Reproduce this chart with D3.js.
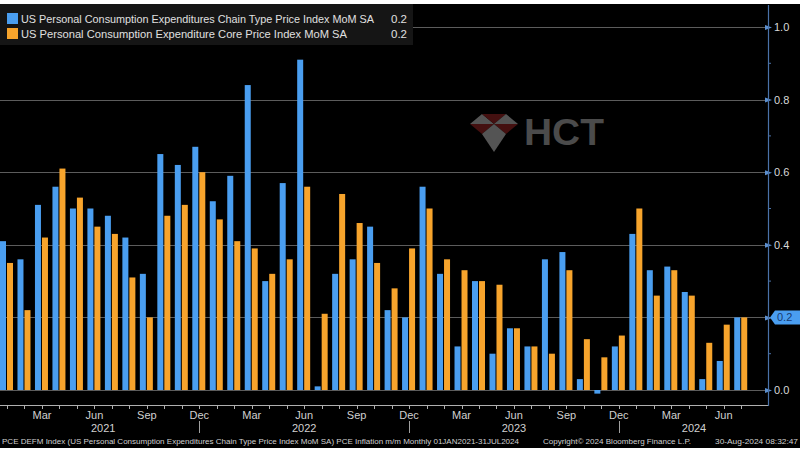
<!DOCTYPE html>
<html>
<head>
<meta charset="utf-8">
<script src="https://cdn.jsdelivr.net/npm/d3@7"></script>
<style>
  html, body { margin: 0; padding: 0; background: #fff; }
  svg { display: block; font-family: "Liberation Sans", Arial, sans-serif; }
</style>
</head>
<body>
<script>
"use strict"

const w = 800;
const h = 453;

// Jan 2021 .. Jul 2024
const months = [];
for (let yr = 2021; yr <= 2024; yr++) {
	for (let m = 0; m < 12; m++) {
		if (yr === 2024 && m > 6) break;
		months.push(new Date(yr, m, 1));
	}
}

const headline = [
	0.41, 0.36, 0.51, 0.56, 0.50, 0.50, 0.48, 0.42, 0.32, 0.65, 0.62, 0.67,
	0.52, 0.59, 0.84, 0.30, 0.57, 0.91, 0.01, 0.32, 0.36, 0.45, 0.22, 0.20,
	0.56, 0.32, 0.12, 0.30, 0.10, 0.17, 0.12, 0.36, 0.38, 0.03, -0.01, 0.12,
	0.43, 0.33, 0.34, 0.27, 0.03, 0.08, 0.20
];
const core = [
	0.35, 0.22, 0.42, 0.61, 0.53, 0.45, 0.43, 0.31, 0.20, 0.48, 0.51, 0.60,
	0.47, 0.41, 0.39, 0.32, 0.36, 0.56, 0.21, 0.54, 0.46, 0.35, 0.28, 0.39,
	0.50, 0.36, 0.33, 0.30, 0.29, 0.17, 0.12, 0.10, 0.33, 0.14, 0.09, 0.15,
	0.50, 0.26, 0.33, 0.26, 0.13, 0.18, 0.20
];

const seriesNames = [
	'US Personal Consumption Expenditures Chain Type Price Index MoM SA',
	'US Personal Consumption Expenditure Core Price Index MoM SA'
];
const seriesKeys = ['headline', 'core'];
const colors = ['#4a9ef0', '#f7a42c'];
const lastValues = ['0.2', '0.2'];

const yTicks = [0, 0.2, 0.4, 0.6, 0.8, 1.0];
const yMinor = [0.1, 0.3, 0.5, 0.7, 0.9];
const monthLabels = {2: 'Mar', 5: 'Jun', 8: 'Sep', 11: 'Dec'};
const years = [2021, 2022, 2023, 2024];
// where each year label sits, in month steps from Jan 2021
const yearLabelAt = [5.5, 17, 29, 39.3];

const footer = [
	'PCE DEFM Index (US Personal Consumption Expenditures Chain Type Price Index MoM SA) PCE Inflation m/m  Monthly 01JAN2021-31JUL2024',
	'Copyright\u00A9 2024 Bloomberg Finance L.P.',
	'30-Aug-2024 08:32:47'
];

const data = months.map((d, i) => ({date: d, headline: headline[i], core: core[i]}));

const plotRight = 768;
const axisY = 405;

const svg = d3.select('body')
	.append('svg')
	.attr('width', w)
	.attr('height', h);

svg.append('rect')
	.attr('x', 0).attr('y', 4)
	.attr('width', w).attr('height', 444)
	.attr('fill', '#000');

// scales
const x0 = d3.scaleBand()
	.domain(d3.range(months.length))
	.range([-1.74, 749.96])
	.padding(0);

const x1 = d3.scaleBand()
	.domain(seriesKeys)
	.range([1.74, 14.74])
	.paddingInner(1 / 7);

const yScale = d3.scaleLinear()
	.domain([0, 1])
	.range([390, 27]);

const mid = i => x0(i) + x0.bandwidth() / 2;
const monthPos = d3.scaleLinear().domain([0, 1]).range([mid(0), mid(1)]);

// gridlines
svg.append('g')
	.selectAll('line')
	.data(yTicks)
	.enter()
	.append('line')
	.attr('x1', 0)
	.attr('x2', plotRight)
	.attr('y1', d => Math.round(yScale(d)) + 0.5)
	.attr('y2', d => Math.round(yScale(d)) + 0.5)
	.attr('stroke', '#5c5c5c')
	.attr('stroke-width', 1);

// watermark
const wm = svg.append('g').attr('transform', 'translate(470,114)').attr('opacity', 0.8);
wm.append('polygon').attr('points', '0,10 12,0 24,10').attr('fill', '#6a6a6a');
wm.append('polygon').attr('points', '12,0 36,0 24,10').attr('fill', '#561414');
wm.append('polygon').attr('points', '24,10 36,0 48,10').attr('fill', '#6a6a6a');
wm.append('polygon').attr('points', '0,10 24,10 12,20').attr('fill', '#561414');
wm.append('polygon').attr('points', '24,10 48,10 36,20').attr('fill', '#561414');
wm.append('polygon').attr('points', '12,20 24,10 36,20').attr('fill', '#6a6a6a');
wm.append('polygon').attr('points', '12,20 36,20 24,38').attr('fill', '#6a6a6a');
wm.append('text')
	.attr('x', 54).attr('y', 31)
	.attr('font-size', 37)
	.attr('font-weight', 'bold')
	.attr('fill', '#5e5e5e')
	.attr('textLength', 80)
	.attr('lengthAdjust', 'spacingAndGlyphs')
	.text('HCT');

// bars
const groups = svg.append('g')
	.selectAll('g')
	.data(data)
	.enter()
	.append('g')
	.attr('transform', (d, i) => 'translate(' + x0(i) + ',0)');

groups.selectAll('rect')
	.data(d => seriesKeys.map((k, j) => ({key: k, value: d[k], color: colors[j]})))
	.enter()
	.append('rect')
	.attr('x', d => x1(d.key))
	.attr('width', x1.bandwidth())
	.attr('y', d => yScale(Math.max(0, d.value)))
	.attr('height', d => Math.abs(yScale(d.value) - yScale(0)))
	.attr('fill', d => d.color);

// x axis
const xg = svg.append('g').attr('transform', 'translate(0,' + axisY + ')');
xg.append('line')
	.attr('x1', 0).attr('x2', plotRight)
	.attr('y1', 0.5).attr('y2', 0.5)
	.attr('stroke', '#b0b0b0');

xg.selectAll('.mtick')
	.data(data)
	.enter()
	.append('line')
	.attr('x1', (d, i) => Math.round(mid(i)) + 0.5)
	.attr('x2', (d, i) => Math.round(mid(i)) + 0.5)
	.attr('y1', 0).attr('y2', 4)
	.attr('stroke', '#b0b0b0');

xg.selectAll('.mlabel')
	.data(data.filter(d => monthLabels[d.date.getMonth()]))
	.enter()
	.append('text')
	.attr('x', d => mid(months.indexOf(d.date)))
	.attr('y', 14)
	.attr('text-anchor', 'middle')
	.attr('font-size', 11)
	.attr('fill', '#d0d0d0')
	.text(d => monthLabels[d.date.getMonth()]);

// year separators under Dec
xg.selectAll('.sep')
	.data(data.filter(d => d.date.getMonth() === 11))
	.enter()
	.append('line')
	.attr('x1', d => Math.round(mid(months.indexOf(d.date))) + 0.5)
	.attr('x2', d => Math.round(mid(months.indexOf(d.date))) + 0.5)
	.attr('y1', 16).attr('y2', 28)
	.attr('stroke', '#a0a0a0');

xg.selectAll('.ylabel')
	.data(years)
	.enter()
	.append('text')
	.attr('x', (yr, i) => monthPos(yearLabelAt[i]))
	.attr('y', 27)
	.attr('text-anchor', 'middle')
	.attr('font-size', 11)
	.attr('fill', '#d0d0d0')
	.text(yr => yr);

// right axis
const yAxis = d3.axisRight(yScale)
	.tickValues(yTicks)
	.tickFormat(d => +lastValues[0] === d ? '' : d3.format('.1f')(d))
	.tickSize(0)
	.tickPadding(6);

const yg = svg.append('g')
	.attr('transform', 'translate(' + plotRight + ',0)')
	.call(yAxis);

yg.select('.domain').remove();
yg.append('line')
	.attr('x1', 0.5).attr('x2', 0.5)
	.attr('y1', 5).attr('y2', axisY + 1)
	.attr('stroke', '#4a72a8')
	.attr('stroke-width', 1.2);

yg.selectAll('.tick text')
	.attr('font-size', 11)
	.attr('fill', '#d8d8d8')
	.attr('font-family', '"Liberation Sans", Arial, sans-serif');

yg.selectAll('.tick')
	.append('path')
	.attr('d', 'M-3,-2.5 L4,0 L-3,2.5 Z')
	.attr('fill', '#5b8fd0');

yg.selectAll('.minor')
	.data(yMinor)
	.enter()
	.append('line')
	.attr('x1', 0).attr('x2', 3)
	.attr('y1', d => yScale(d)).attr('y2', d => yScale(d))
	.attr('stroke', '#4a72a8');

// last value tag
const tagY = yScale(+lastValues[0]);
yg.append('path')
	.attr('d', 'M2,' + tagY + ' L7,' + (tagY - 7) + ' L32,' + (tagY - 7) + ' L32,' + (tagY + 7) + ' L7,' + (tagY + 7) + ' Z')
	.attr('fill', '#4a9ef0');
yg.append('text')
	.attr('x', 9).attr('y', tagY + 4)
	.attr('font-size', 11)
	.attr('fill', '#173a70')
	.text(lastValues[0]);

// legend
const leg = svg.append('g');
leg.append('rect')
	.attr('x', 0).attr('y', 4)
	.attr('width', 413).attr('height', 41)
	.attr('fill', '#151515');

const legRows = leg.selectAll('.row')
	.data(seriesNames)
	.enter()
	.append('g')
	.attr('transform', (d, i) => 'translate(0,' + (i * 15) + ')');

legRows.append('rect')
	.attr('x', 7).attr('y', 13)
	.attr('width', 11).attr('height', 11)
	.attr('fill', (d, i) => colors[i]);

legRows.append('text')
	.attr('x', 21).attr('y', 23)
	.attr('font-size', 10.5)
	.attr('fill', '#e0e0e0')
	.attr('textLength', (d, i) => i === 0 ? 353 : 326)
	.attr('lengthAdjust', 'spacingAndGlyphs')
	.text(d => d);

legRows.append('text')
	.attr('x', 407).attr('y', 23)
	.attr('text-anchor', 'end')
	.attr('font-size', 11.5)
	.attr('fill', '#e0e0e0')
	.text((d, i) => lastValues[i]);

// footer
const footX = [2, 543, 715];
const footW = [517, 148, 83];
svg.selectAll('.foot')
	.data(footer)
	.enter()
	.append('text')
	.attr('x', (d, i) => footX[i])
	.attr('y', 444)
	.attr('font-size', 8)
	.attr('fill', '#d0d0d0')
	.attr('textLength', (d, i) => footW[i])
	.attr('lengthAdjust', 'spacingAndGlyphs')
	.text(d => d);
</script>
</body>
</html>
